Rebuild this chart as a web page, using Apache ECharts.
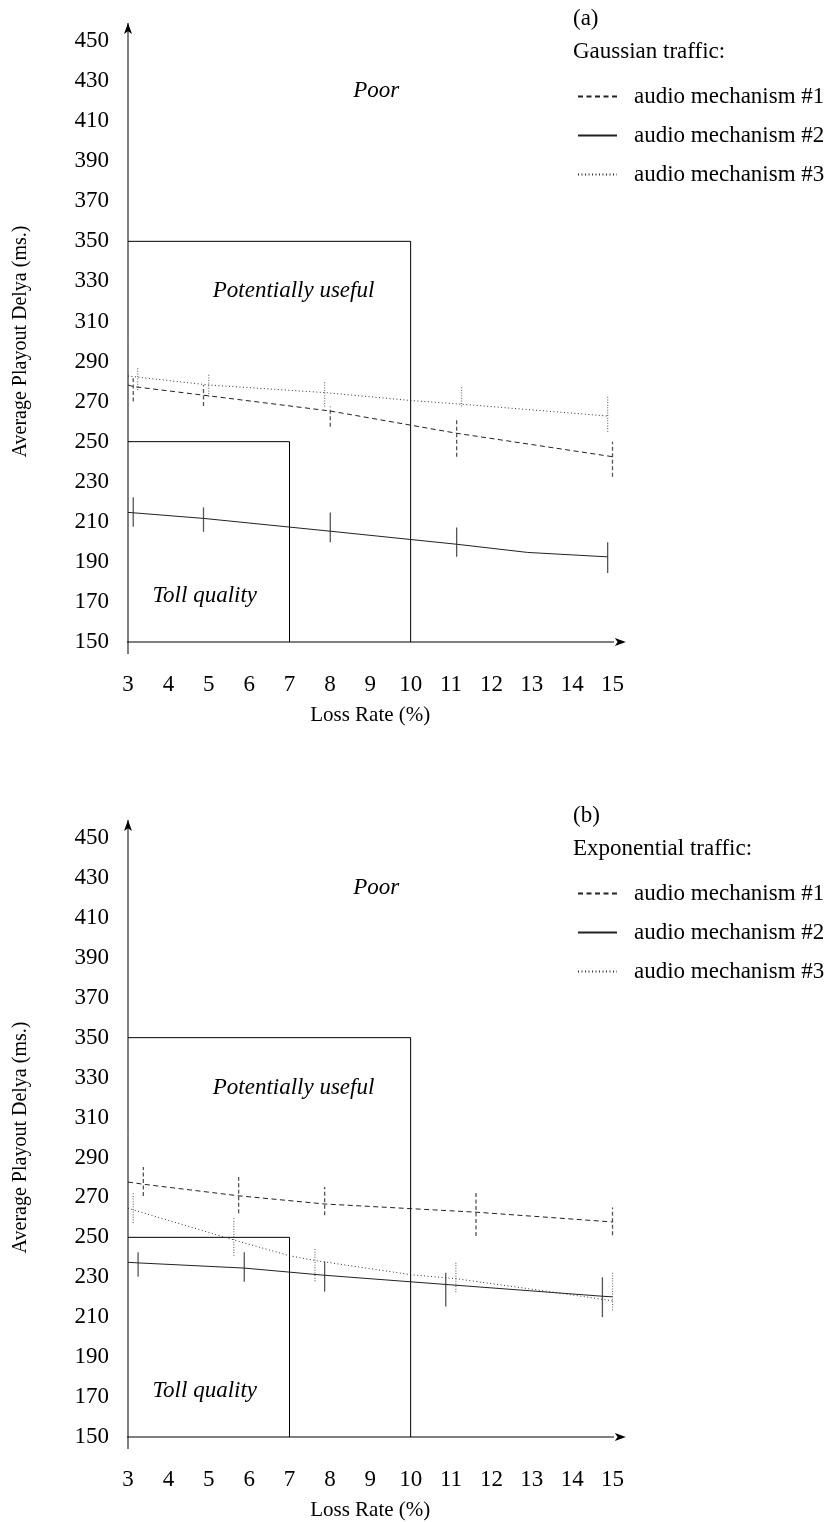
<!DOCTYPE html>
<html>
<head>
<meta charset="utf-8">
<script src="https://cdn.jsdelivr.net/npm/echarts@6/dist/echarts.min.js"></script>
<style>
  html, body { margin: 0; padding: 0; background: #fff; }
  #chart { width: 831px; height: 1522px; }
</style>
</head>
<body>
<div id="chart"></div>
<script>
// Loss rate axis (percent) and playout delay axis (ms)
const xTicks = [3, 4, 5, 6, 7, 8, 9, 10, 11, 12, 13, 14, 15];
const yTicks = [150, 170, 190, 210, 230, 250, 270, 290, 310, 330, 350, 370, 390, 410, 430, 450];
const mechNames = ['audio mechanism #1', 'audio mechanism #2', 'audio mechanism #3'];

// Quality regions: [lossRate, delay] corners
const tollBox = [[3, 250], [7, 250], [7, 150]];
const usefulBox = [[3, 350], [10, 350], [10, 150]];
const regionNames = ['Poor', 'Potentially useful', 'Toll quality'];
const regionAnchors = [[9.15, 425], [7.1, 325], [4.9, 173]];

// (a) Gaussian traffic — curves [loss, delay]
const gaussM1 = [[3, 278.3], [3.13, 277.5], [4.87, 273.2], [8.01, 265.3], [11.14, 254.2], [15, 242.5]];
const gaussM2 = [[3, 214.7], [3.13, 214.5], [4.87, 211.7], [8.01, 205.3], [11.14, 198.8], [12.9, 194.7], [14.88, 192.5]];
const gaussM3 = [[3, 282.8], [3.24, 282.2], [5, 278.3], [7.87, 274.5], [10.03, 270.5], [11.26, 268.7], [14.88, 262.8]];
// (a) error bars [loss, low, high]
const gaussM1Err = [[3.13, 270, 281.7], [4.87, 267.8, 278.3], [8.01, 257.5, 267.5], [11.14, 242.5, 260.8], [15, 232.5, 250]];
const gaussM2Err = [[3.13, 207.5, 222.2], [4.87, 205, 217.2], [8.01, 199.8, 214.7], [11.14, 192.5, 207.2], [14.88, 184.5, 199.8]];
const gaussM3Err = [[3.24, 275.8, 286.7], [5, 272.5, 284.2], [7.87, 267.5, 280], [11.26, 267.5, 277.5], [14.88, 255, 272.5]];

// (b) Exponential traffic — curves
const expoM1 = [[3, 277.7], [3.38, 276.6], [5.74, 270.8], [7.87, 266.7], [11.62, 262.6], [15, 257.7]];
const expoM2 = [[3, 237.5], [3.25, 237.2], [5.88, 234.6], [7.87, 231], [10.87, 226.4], [14.75, 220.5], [15, 220.2]];
const expoM3 = [[3, 264.6], [3.13, 263.8], [5.62, 248.7], [7, 240.8], [7.63, 238.4], [10, 231.3], [11.12, 229.3], [13.44, 222.8], [15, 218.2]];
// (b) error bars
const expoM1Err = [[3.38, 270.7, 285.2], [5.74, 262.1, 280.2], [7.87, 261, 275.2], [11.62, 250.7, 272.3], [15, 251, 264.9]];
const expoM2Err = [[3.25, 230.2, 242.5], [5.88, 227.7, 242.5], [7.87, 222.8, 237.9], [10.87, 215.4, 232.3], [14.75, 210, 230]];
const expoM3Err = [[3.13, 257.2, 272.3], [5.62, 240.8, 259.6], [7.63, 228, 244.9], [11.12, 222.5, 237.5], [15, 213.5, 232.6]];

// Axis arrow extents
const xArrow = [[2.75, 150], [15.33, 150]];
const yArrow = [[3, 144], [3, 459]];

const FONT = '"Liberation Serif", "DejaVu Serif", serif';
const INK = '#000';
const styles = [
  { line: { type: [5, 3.5], color: '#222', width: 1 }, bar: { dash: [4, 2.5], color: '#555' } },
  { line: { type: 'solid', color: '#222', width: 1 }, bar: { dash: null, color: '#555' } },
  { line: { type: [1, 2.5], color: '#333', width: 1 }, bar: { dash: [1, 1.6], color: '#777' } }
];

function errorBars(idx, data, st) {
  return {
    type: 'custom', xAxisIndex: idx, yAxisIndex: idx, clip: false, silent: true,
    data: data,
    encode: { x: 0, y: [1, 2] },
    renderItem: function (params, api) {
      const a = api.coord([api.value(0), api.value(1)]);
      const b = api.coord([api.value(0), api.value(2)]);
      return {
        type: 'line',
        shape: { x1: a[0], y1: a[1], x2: b[0], y2: b[1] },
        style: { stroke: st.color, lineWidth: 1.3, lineDash: st.dash }
      };
    }
  };
}

function curve(idx, name, data, st) {
  return {
    type: 'line', name: name, xAxisIndex: idx, yAxisIndex: idx,
    data: data, symbol: 'none', clip: false, silent: true,
    lineStyle: st.line, itemStyle: { color: st.line.color }
  };
}

function plainLine(idx, data) {
  return {
    type: 'line', xAxisIndex: idx, yAxisIndex: idx, data: data,
    symbol: 'none', clip: false, silent: true,
    lineStyle: { color: INK, width: 1 }
  };
}

function arrowLine(idx, data, rot) {
  return {
    type: 'line', xAxisIndex: idx, yAxisIndex: idx, clip: false, silent: true,
    showSymbol: true, symbol: 'none',
    data: [data[0], { value: data[1], symbol: 'arrow', symbolSize: [6, 11], symbolRotate: rot }],
    lineStyle: { color: INK, width: 1 }, itemStyle: { color: INK }
  };
}

// Italic region names placed at data coordinates
function labelSeries(idx) {
  return {
    type: 'custom', xAxisIndex: idx, yAxisIndex: idx, clip: false, silent: true,
    data: regionAnchors.map((p, i) => [p[0], p[1], i]),
    encode: { x: 0, y: 1 },
    renderItem: function (params, api) {
      const p = api.coord([api.value(0), api.value(1)]);
      return {
        type: 'text',
        style: {
          x: p[0], y: p[1], text: regionNames[api.value(2)],
          fill: INK, font: 'italic 23px ' + FONT,
          textAlign: 'center', textVerticalAlign: 'middle'
        }
      };
    }
  };
}

function panelSeries(idx, curves, bars) {
  const out = [
    plainLine(idx, tollBox), plainLine(idx, usefulBox),
    arrowLine(idx, xArrow, -90), arrowLine(idx, yArrow, 0),
    labelSeries(idx)
  ];
  curves.forEach((c, i) => out.push(curve(idx, mechNames[i], c, styles[i])));
  bars.forEach((b, i) => out.push(errorBars(idx, b, styles[i].bar)));
  return out;
}

const grids = [
  { left: 128, top: 41, width: 484.5, height: 601 },
  { left: 128, top: 838, width: 484.5, height: 601 }
];

function xAxisFor(idx) {
  return {
    type: 'value', gridIndex: idx, min: xTicks[0], max: xTicks[xTicks.length - 1], interval: 1,
    axisLine: { show: false }, axisTick: { show: false }, splitLine: { show: false },
    axisLabel: { margin: 31, fontFamily: FONT, fontSize: 23, color: INK },
    name: 'Loss Rate (%)', nameLocation: 'middle', nameGap: 63,
    nameTextStyle: { fontFamily: FONT, fontSize: 21, color: INK }
  };
}
function yAxisFor(idx) {
  return {
    type: 'value', gridIndex: idx, min: yTicks[0], max: yTicks[yTicks.length - 1], interval: 20,
    axisLine: { show: false }, axisTick: { show: false }, splitLine: { show: false },
    axisLabel: { margin: 19, fontFamily: FONT, fontSize: 23, color: INK },
    name: 'Average Playout Delya (ms.)', nameLocation: 'middle', nameGap: 97,
    nameTextStyle: { fontFamily: FONT, fontSize: 20, color: INK }
  };
}

const titleStyle = { fontFamily: FONT, fontSize: 23, fontWeight: 'normal', color: INK };
const legendCommon = {
  orient: 'vertical', left: 572, itemWidth: 39, itemHeight: 24, itemGap: 16,
  selectedMode: false, data: mechNames,
  itemStyle: { opacity: 0 },
  textStyle: { fontFamily: FONT, fontSize: 23, color: INK, padding: [0, 0, 0, 12] }
};

const chart = echarts.init(document.getElementById('chart'), null, { renderer: 'canvas' });
chart.setOption({
  animation: false,
  backgroundColor: '#fff',
  title: [
    { text: '(a)', left: 568, top: 2, textStyle: titleStyle },
    { text: 'Gaussian traffic:', left: 568, top: 35, textStyle: titleStyle },
    { text: '(b)', left: 568, top: 799, textStyle: titleStyle },
    { text: 'Exponential traffic:', left: 568, top: 832, textStyle: titleStyle }
  ],
  legend: [
    Object.assign({ top: 80 }, legendCommon),
    Object.assign({ top: 877 }, legendCommon)
  ],
  grid: grids,
  xAxis: [xAxisFor(0), xAxisFor(1)],
  yAxis: [yAxisFor(0), yAxisFor(1)],
  series: [].concat(
    panelSeries(0, [gaussM1, gaussM2, gaussM3], [gaussM1Err, gaussM2Err, gaussM3Err]),
    panelSeries(1, [expoM1, expoM2, expoM3], [expoM1Err, expoM2Err, expoM3Err])
  )
});
</script>
</body>
</html>
